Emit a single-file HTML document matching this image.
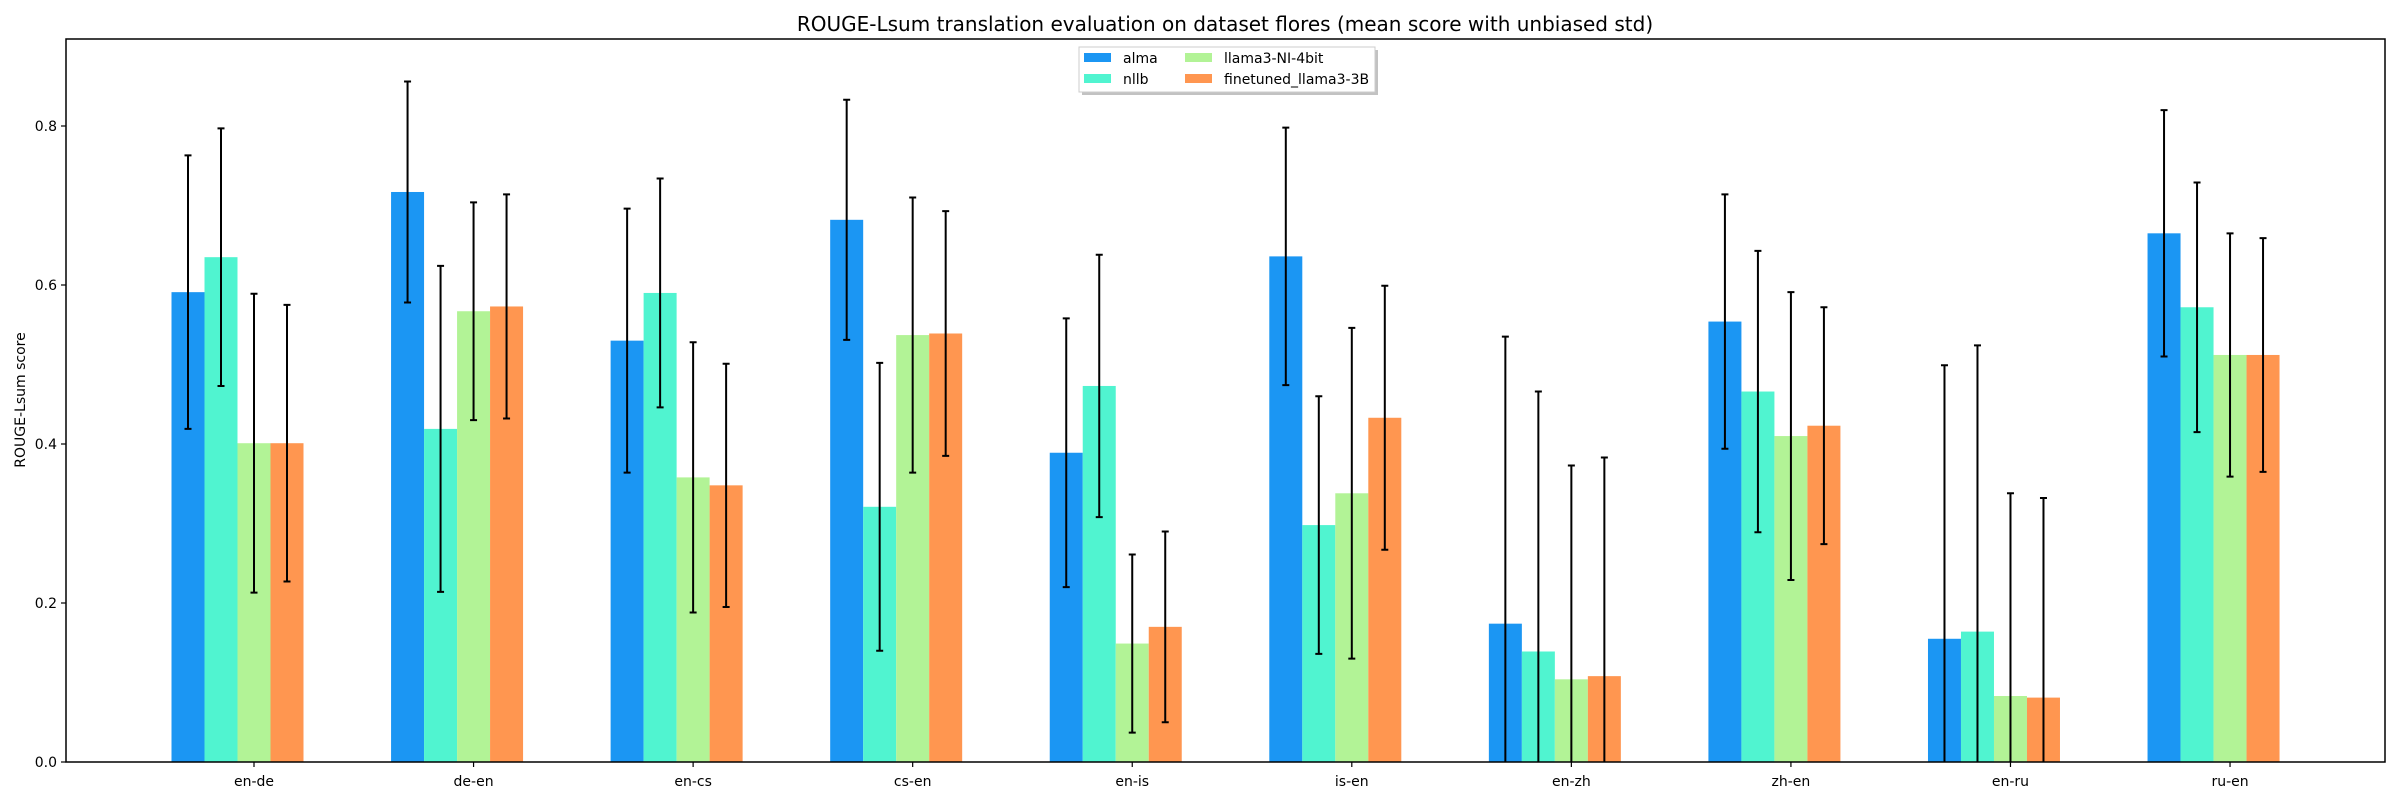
<!DOCTYPE html>
<html><head><meta charset="utf-8"><style>
html,body{margin:0;padding:0;background:#fff;width:2400px;height:800px;overflow:hidden;}
svg{display:block;font-family:"DejaVu Sans","Liberation Sans",sans-serif;}
</style></head><body>
<svg id="chart" width="2400" height="800" viewBox="0 0 2400 800">
<defs><clipPath id="plotclip"><rect x="66" y="39" width="2319" height="723"/></clipPath></defs>
<text x="1225" y="31" text-anchor="middle" font-size="20" fill="#000">ROUGE-Lsum translation evaluation on dataset flores (mean score with unbiased std)</text>
<g id="bars" clip-path="url(#plotclip)"></g>
<g id="errs" clip-path="url(#plotclip)"></g>
<rect x="66" y="39" width="2319" height="723" fill="none" stroke="#000" stroke-width="1.5"/>
<g id="xaxis"></g>
<g id="yaxis"></g>
<text transform="translate(25,400) rotate(-90)" text-anchor="middle" font-size="14">ROUGE-Lsum score</text>
<g>
<rect x="1082" y="50" width="296" height="45" fill="#999" opacity="0.6"/>
<rect x="1079" y="47" width="296" height="45" fill="#fff" stroke="#ccc" stroke-width="1"/>
<g id="legend-items"></g>
</g>
</svg>
<script>
const categories = ["en-de","de-en","en-cs","cs-en","en-is","is-en","en-zh","zh-en","en-ru","ru-en"];
const seriesNames = ["alma","nllb","llama3-NI-4bit","finetuned_llama3-3B"];
const seriesColors = ["#1b96f3","#50f4d0","#b2f396","#ff9650"];
const almaMean = [0.591,0.717,0.530,0.682,0.389,0.636,0.174,0.554,0.155,0.665];
const almaStd  = [0.172,0.139,0.166,0.151,0.169,0.162,0.361,0.160,0.344,0.155];
const nllbMean = [0.635,0.419,0.590,0.321,0.473,0.298,0.139,0.466,0.164,0.572];
const nllbStd  = [0.162,0.205,0.144,0.181,0.165,0.162,0.327,0.177,0.360,0.157];
const llamaMean= [0.401,0.567,0.358,0.537,0.149,0.338,0.104,0.410,0.083,0.512];
const llamaStd = [0.188,0.137,0.170,0.173,0.112,0.208,0.269,0.181,0.255,0.153];
const ftMean   = [0.401,0.573,0.348,0.539,0.170,0.433,0.108,0.423,0.081,0.512];
const ftStd    = [0.174,0.141,0.153,0.154,0.120,0.166,0.275,0.149,0.251,0.147];
const yTicks = [0.0,0.2,0.4,0.6,0.8];
const means = [almaMean,nllbMean,llamaMean,ftMean];
const stds = [almaStd,nllbStd,llamaStd,ftStd];
const NS="http://www.w3.org/2000/svg";
const x0=254, dx=219.56, bw=33;
function xScale(i){return x0+i*dx;}
function yScale(v){return 762-v*795;}
function mk(tag,attrs,parent){const e=document.createElementNS(NS,tag);for(const k in attrs)e.setAttribute(k,attrs[k]);parent.appendChild(e);return e;}
const gb=document.getElementById('bars'), ge=document.getElementById('errs');
means.forEach((arr,s)=>{
  arr.forEach((v,i)=>{
    const cx=xScale(i)+(s-2)*bw;
    const r=mk('rect',{x:cx-bw/2,y:yScale(v),width:bw,height:yScale(0)-yScale(v),fill:seriesColors[s]},gb);
    
    
    const hi=yScale(v+stds[s][i]), lo=yScale(v-stds[s][i]);
    const e=mk('path',{d:`M${cx},${hi}V${lo}M${cx-3.5},${hi}H${cx+3.5}M${cx-3.5},${lo}H${cx+3.5}`,stroke:'#000','stroke-width':2,fill:'none'},ge);
    
    
  });
});
const gx=document.getElementById('xaxis');
categories.forEach((c,i)=>{
  const x=xScale(i);
  mk('line',{x1:x,x2:x,y1:762,y2:767,stroke:'#000','stroke-width':1.2},gx);
  const t=mk('text',{x:x,y:786,'text-anchor':'middle','font-size':14},gx);
  t.textContent=c;
  
  
});
const gy=document.getElementById('yaxis');
yTicks.forEach(v=>{
  const y=yScale(v);
  mk('line',{x1:61,x2:66,y1:y,y2:y,stroke:'#000','stroke-width':1.2},gy);
  const t=mk('text',{x:57,y:y+5,'text-anchor':'end','font-size':14},gy);
  t.textContent=v.toFixed(1);
  
  
});
const gl=document.getElementById('legend-items');
const lpos=[[1084,51],[1084,72],[1185,51],[1185,72]];
seriesNames.forEach((n,s)=>{
  const [lx,ly]=lpos[s];
  const p=mk('rect',{x:lx,y:ly+2,width:27,height:9,fill:seriesColors[s]},gl);
  
  
  const t=mk('text',{x:lx+39,y:ly+12,'font-size':14},gl);
  t.textContent=n;
  
  
});
</script>
</body></html>
